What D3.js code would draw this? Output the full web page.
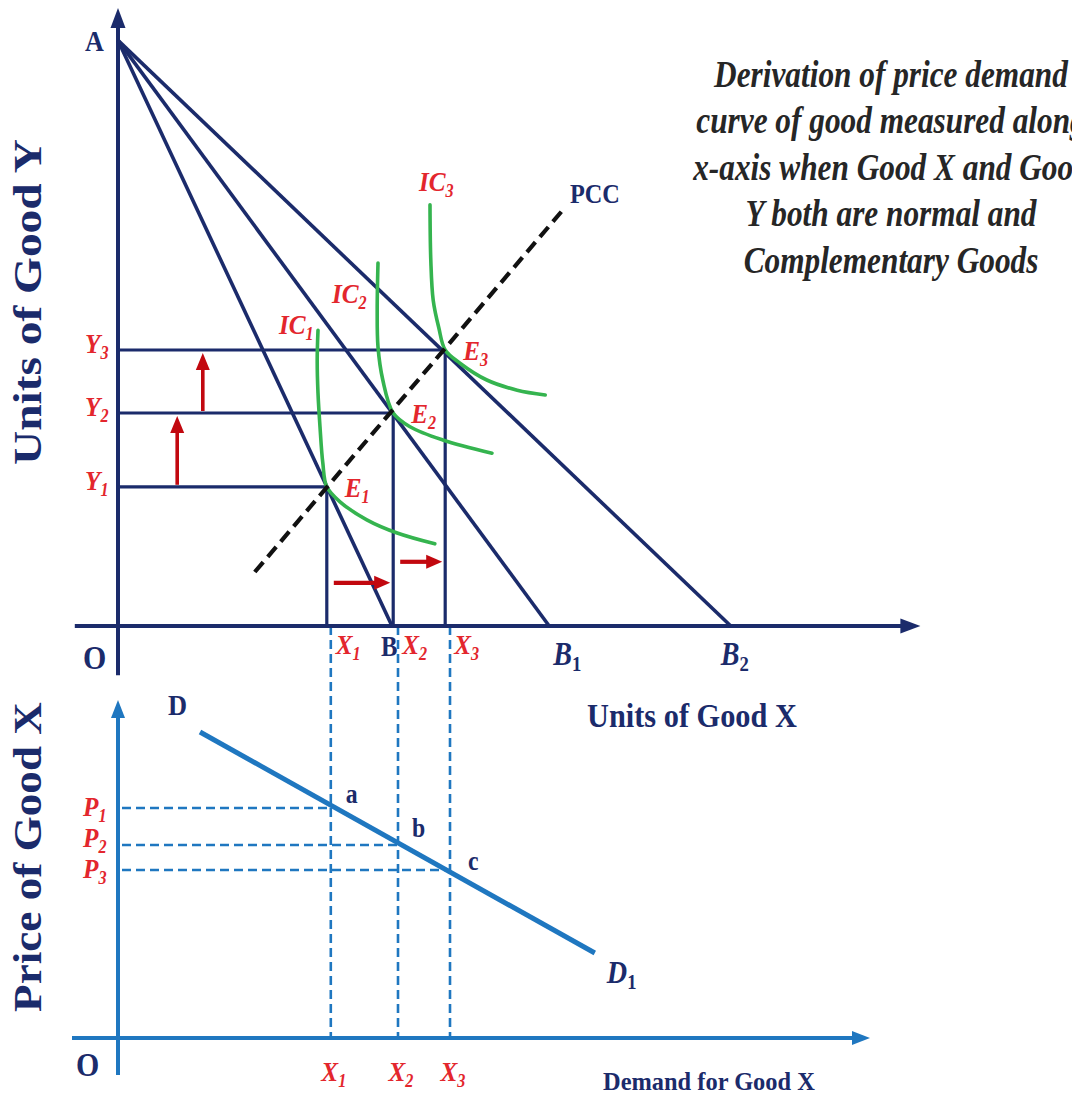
<!DOCTYPE html>
<html>
<head>
<meta charset="utf-8">
<script src="https://cdn.jsdelivr.net/npm/d3@7"></script>
<style>
  html, body { margin: 0; padding: 0; background: #ffffff; }
  svg { display: block; }
</style>
</head>
<body>
<svg id="chart" width="1072" height="1102"></svg>
<script>
// ---------- data (chart units, 0..100 on each axis) ----------
const interceptA = 97.6;                         // Y-intercept shared by all budget lines
const budgetIntercepts = [34.25, 53.9, 76.6];    // X-intercepts B, B1, B2
const budgetNames = ["B", "B", "B"];
const budgetSubs = ["", "1", "2"];

const eqX = [26.1, 34.4, 40.9];                  // X1, X2, X3 (equilibrium quantities of X)
const eqY = [23.2, 35.5, 46.0];                  // Y1, Y2, Y3
const eqNames = ["1", "2", "3"];

const ic1 = [[25.0, 49.3], [24.9, 44.3], [25.0, 38.8], [25.25, 33.2], [25.6, 27.2], [26.1, 23.2],
             [27.75, 20.7], [31.1, 17.7], [34.9, 15.5], [39.6, 13.7]];
const ic2 = [[32.5, 60.5], [32.4, 52.7], [32.5, 46.5], [33.1, 41.0], [34.4, 35.5], [36.5, 33.2],
             [40.6, 31.0], [46.75, 28.8]];
const ic3 = [[39.0, 70.2], [39.1, 61.0], [39.4, 54.3], [40.1, 49.7], [40.9, 46.0], [42.75, 43.8],
             [46.1, 41.0], [49.9, 39.3], [53.4, 38.5]];

const pcc = [[17.1, 9.0], [55.9, 69.8]];         // price consumption curve

const demandLine = [[10.25, 76.5], [59.6, 21.25]];
const demandQty = [26.6, 35.0, 41.5];            // X1, X2, X3 on the demand panel
const demandPrice = [57.5, 48.25, 42.0];         // P1, P2, P3
const pointNames = ["a", "b", "c"];

const titleLines = [
  "Derivation of price demand",
  "curve of good measured along",
  "x-axis when Good X and Good",
  "Y both are normal and",
  "Complementary Goods"
];

// ---------- styling ----------
const NAVY = "#1b2b6b";
const BLUE = "#1f77c0";
const GREEN = "#35b44f";
const RED_TXT = "#e3262d";
const RED_ARW = "#c2080f";
const SERIF = "'Liberation Serif', 'Times New Roman', serif";

// ---------- scales ----------
const x = d3.scaleLinear().domain([0, 100]).range([118, 918]);
const yTop = d3.scaleLinear().domain([0, 100]).range([626, 26]);
const yBot = d3.scaleLinear().domain([0, 100]).range([1038, 638]);

const svg = d3.select("#chart");

// ---------- helpers ----------
function arrowHead(g, tipX, tipY, angle, len, wid, color) {
  // angle: direction the arrow points, in radians
  const bx = tipX - len * Math.cos(angle), by = tipY - len * Math.sin(angle);
  const px = -Math.sin(angle) * wid / 2, py = Math.cos(angle) * wid / 2;
  g.append("path")
    .attr("d", `M${tipX},${tipY}L${bx + px},${by + py}L${bx - px},${by - py}Z`)
    .attr("fill", color);
}

function arrowLine(g, x1, y1, x2, y2, color, width, len, wid) {
  const ang = Math.atan2(y2 - y1, x2 - x1);
  g.append("line")
    .attr("x1", x1).attr("y1", y1)
    .attr("x2", x2 - (len - 2) * Math.cos(ang)).attr("y2", y2 - (len - 2) * Math.sin(ang))
    .attr("stroke", color).attr("stroke-width", width);
  arrowHead(g, x2, y2, ang, len, wid, color);
}

// text with optional subscript, horizontally condensed by sx
function label(g, px, py, main, sub, o) {
  const t = g.append("text")
    .attr("transform", `translate(${px},${py}) scale(${o.sx || 1},1)`)
    .attr("font-family", SERIF)
    .attr("font-size", o.size)
    .attr("font-weight", o.weight || "bold")
    .attr("font-style", o.style || "normal")
    .attr("fill", o.fill)
    .attr("text-anchor", o.anchor || "start");
  t.append("tspan").text(main);
  if (sub) {
    t.append("tspan")
      .attr("dy", o.subDy || 5)
      .attr("font-size", o.subSize || Math.round(o.size * 0.62))
      .attr("font-style", o.subStyle || o.style || "normal")
      .text(sub);
  }
  return t;
}

// text stretched/condensed to fit a given length
function fitted(g, transform, str, o, length) {
  const grp = g.append("g").attr("transform", transform);
  const t = grp.append("text")
    .attr("font-family", SERIF)
    .attr("font-size", o.size)
    .attr("font-weight", o.weight || "bold")
    .attr("font-style", o.style || "normal")
    .attr("fill", o.fill)
    .attr("text-anchor", o.anchor || "middle")
    .text(str);
  const natural = t.node().getComputedTextLength();
  t.attr("transform", `scale(${length / natural},1)`);
  return natural;
}

// ---------- lower panel dashed guides (drawn first, under everything) ----------
const guides = svg.append("g");
demandQty.forEach((q, i) => {
  guides.append("line")
    .attr("x1", x(q)).attr("x2", x(q))
    .attr("y1", yTop(0)).attr("y2", yBot(0))
    .attr("stroke", BLUE).attr("stroke-width", 2.6)
    .attr("stroke-dasharray", "9,5");
  guides.append("line")
    .attr("x1", x(0.5)).attr("x2", x(q))
    .attr("y1", yBot(demandPrice[i])).attr("y2", yBot(demandPrice[i]))
    .attr("stroke", BLUE).attr("stroke-width", 2.6)
    .attr("stroke-dasharray", "9,5");
});

// ---------- top panel ----------
const topG = svg.append("g");

// axes
topG.append("line")
  .attr("x1", x(0)).attr("x2", x(0))
  .attr("y1", yTop(-8.2)).attr("y2", yTop(100))
  .attr("stroke", NAVY).attr("stroke-width", 4);
arrowHead(topG, x(0), yTop(103), -Math.PI / 2, 20, 15, NAVY);
topG.append("line")
  .attr("x1", x(-5.4)).attr("x2", x(98))
  .attr("y1", yTop(0)).attr("y2", yTop(0))
  .attr("stroke", NAVY).attr("stroke-width", 4);
arrowHead(topG, x(100.3), yTop(0), 0, 20, 15, NAVY);

// budget lines
budgetIntercepts.forEach(b => {
  topG.append("line")
    .attr("x1", x(0)).attr("y1", yTop(interceptA))
    .attr("x2", x(b)).attr("y2", yTop(0))
    .attr("stroke", NAVY).attr("stroke-width", 3.6);
});

// equilibrium projections
eqX.forEach((ex, i) => {
  topG.append("line")
    .attr("x1", x(0)).attr("x2", x(ex))
    .attr("y1", yTop(eqY[i])).attr("y2", yTop(eqY[i]))
    .attr("stroke", NAVY).attr("stroke-width", 3.2);
  topG.append("line")
    .attr("x1", x(ex)).attr("x2", x(ex))
    .attr("y1", yTop(eqY[i])).attr("y2", yTop(0))
    .attr("stroke", NAVY).attr("stroke-width", 3.2);
});

// indifference curves
const icLine = d3.line().x(d => x(d[0])).y(d => yTop(d[1])).curve(d3.curveCatmullRom.alpha(0.5));
[ic1, ic2, ic3].forEach(c => {
  topG.append("path")
    .attr("d", icLine(c))
    .attr("fill", "none")
    .attr("stroke", GREEN).attr("stroke-width", 3.6)
    .attr("stroke-linecap", "round");
});

// price consumption curve
topG.append("line")
  .attr("x1", x(pcc[0][0])).attr("y1", yTop(pcc[0][1]))
  .attr("x2", x(pcc[1][0])).attr("y2", yTop(pcc[1][1]))
  .attr("stroke", "#111111").attr("stroke-width", 4.2)
  .attr("stroke-dasharray", "13,7");

// red shift arrows: Y rises from Y1 to Y2 to Y3, X rises from X1 to X2 to X3
const vArrowX = [7.4, 10.6];
vArrowX.forEach((ax, i) => {
  arrowLine(topG, x(ax), yTop(eqY[i]) - 2, x(ax), yTop(eqY[i + 1]) + 3, RED_ARW, 3.6, 17, 14);
});
const hArrowY = [7.2, 10.7];
hArrowY.forEach((ay, i) => {
  arrowLine(topG, x(eqX[i]) + 7, yTop(ay), x(eqX[i + 1]) - 3, yTop(ay), RED_ARW, 4.2, 16, 14);
});

// ---------- top panel labels ----------
label(topG, 85, 51, "A", "", { size: 29, fill: NAVY, sx: 0.9 });
label(topG, 83, 669, "O", "", { size: 34, fill: NAVY, sx: 0.88 });
label(topG, 570, 203, "PCC", "", { size: 27, fill: NAVY, sx: 0.9 });

const redItal = { size: 28, fill: RED_TXT, style: "italic", weight: "bold", sx: 0.9, subSize: 18, subDy: 6 };
eqY.forEach((v, i) => label(topG, 85, yTop(v) + 3, "Y", eqNames[i], redItal));
eqX.forEach((v, i) => label(topG, x(v) + 9, 654, "X", eqNames[i], redItal));
eqX.forEach((v, i) => label(topG, x(v) + 18, yTop(eqY[i]) + 10, "E", eqNames[i], redItal));

const icLabelPos = [[279, 334], [332, 303], [419, 191]];
icLabelPos.forEach((p, i) => label(topG, p[0], p[1], "IC", eqNames[i], redItal));

const budgetLabelDx = [-11, 4, -10];
budgetIntercepts.forEach((b, i) => {
  if (i === 0) {
    label(topG, x(b) + budgetLabelDx[i], 656, "B", "", { size: 29, fill: NAVY, sx: 0.85 });
  } else {
    label(topG, x(b) + budgetLabelDx[i], 665, budgetNames[i], budgetSubs[i],
      { size: 33, fill: NAVY, style: "italic", sx: 0.85, subSize: 22, subDy: 6, subStyle: "normal" });
  }
});

fitted(topG, "translate(587,727)", "Units of Good X", { size: 34, fill: NAVY, anchor: "start" }, 210);
fitted(topG, "translate(41,302) rotate(-90)", "Units of Good Y", { size: 40, fill: NAVY }, 326);

// title block
const titleG = topG.append("g");
const titleTexts = [];
titleLines.forEach((s) => {
  const t = titleG.append("text")
    .attr("font-family", SERIF).attr("font-size", 38)
    .attr("font-weight", "bold").attr("font-style", "italic")
    .attr("fill", "#262626").attr("text-anchor", "middle")
    .text(s);
  titleTexts.push(t);
});
const titleScale = 354 / titleTexts[0].node().getComputedTextLength();
const titleBaselines = [87, 133, 180, 226, 273];
titleTexts.forEach((t, i) => t.attr("transform", `translate(891,${titleBaselines[i]}) scale(${titleScale},1)`));

// ---------- bottom panel ----------
const botG = svg.append("g");
botG.append("line")
  .attr("x1", x(0)).attr("x2", x(0))
  .attr("y1", yBot(-9.25)).attr("y2", yBot(81))
  .attr("stroke", BLUE).attr("stroke-width", 4);
arrowHead(botG, x(0), yBot(84.5), -Math.PI / 2, 18, 14, BLUE);
botG.append("line")
  .attr("x1", x(-5.75)).attr("x2", x(92))
  .attr("y1", yBot(0)).attr("y2", yBot(0))
  .attr("stroke", BLUE).attr("stroke-width", 4.2);
arrowHead(botG, x(94), yBot(0), 0, 18, 14, BLUE);

// demand curve
botG.append("line")
  .attr("x1", x(demandLine[0][0])).attr("y1", yBot(demandLine[0][1]))
  .attr("x2", x(demandLine[1][0])).attr("y2", yBot(demandLine[1][1]))
  .attr("stroke", BLUE).attr("stroke-width", 5);

// labels
label(botG, 76, 1076, "O", "", { size: 34, fill: NAVY, sx: 0.88 });
label(botG, x(demandLine[0][0]) - 32, yBot(demandLine[0][1]) - 17, "D", "", { size: 30, fill: NAVY, sx: 0.88 });
label(botG, x(demandLine[1][0]) + 12, yBot(demandLine[1][1]) + 30, "D", "1",
  { size: 32, fill: NAVY, style: "italic", sx: 0.88, subSize: 21, subDy: 6, subStyle: "normal" });

const ptOff = [[15, -5], [14, -8], [18, 0]];
demandQty.forEach((q, i) => {
  label(botG, x(q) + ptOff[i][0], yBot(demandPrice[i]) + ptOff[i][1], pointNames[i], "",
    { size: 27, fill: NAVY, sx: 0.88 });
  label(botG, x(q) + 3, 1081, "X", eqNames[i], Object.assign({}, redItal, { anchor: "middle" }));
});
const pBaseOff = [8, 2, 8];
demandPrice.forEach((p, i) => label(botG, 83, yBot(p) + pBaseOff[i], "P", eqNames[i], redItal));

fitted(botG, "translate(603,1090)", "Demand for Good X", { size: 25, fill: NAVY, anchor: "start" }, 212);
fitted(botG, "translate(41,857) rotate(-90)", "Price of Good X", { size: 40, fill: NAVY }, 310);
</script>
</body>
</html>
